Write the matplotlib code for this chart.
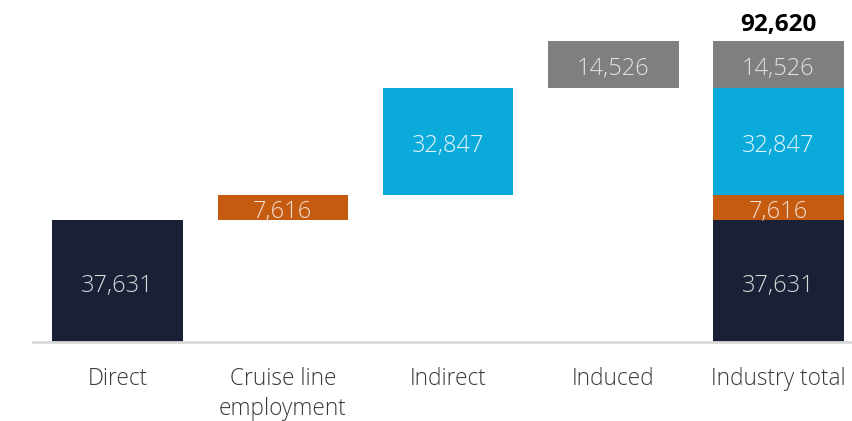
import numpy as np
import matplotlib.pyplot as plt

plt.rcParams['font.family'] = ['Open Sans', 'DejaVu Sans']

# data
categories = ['Direct', 'Cruise line\nemployment', 'Indirect', 'Induced', 'Industry total']
components = ['Direct', 'Cruise line employment', 'Indirect', 'Induced']
values = [37631, 7616, 32847, 14526]
colors = ['#1a2035', '#c55a11', '#0aabdb', '#7f7f7f']
text_colors = ['#d9d9d9', '#f2dccb', '#e8f6fb', '#e0e0e0']

values = np.array(values)
bottoms = np.concatenate([[0], np.cumsum(values)[:-1]])
total = values.sum()

fig = plt.figure(figsize=(8.52, 4.21), dpi=100)
ax = fig.add_axes([33 / 852, 1 - 342 / 421, 1 - 33 / 852, 342 / 421])

w = 0.79
for i, (v, b, c, tc) in enumerate(zip(values, bottoms, colors, text_colors)):
    for x in (i, 4):  # waterfall step + stacked total
        ax.bar(x, v, bottom=b, width=w, color=c, linewidth=0)
        ax.annotate(f'{v:,}', (x, b + v / 2), xytext=(0, -3.5),
                    textcoords='offset points', ha='center', va='center',
                    fontsize=17, color=tc, fontweight='light')

ax.text(4, total + 1200, f'{total:,}', ha='center', va='bottom',
        fontsize=17.5, fontweight='bold', color='black')

ax.set_xlim(-0.512, 4.445)
ax.set_ylim(0, 342 / (301 / 92620))
ax.set_xticks(range(len(categories)))
ax.set_xticklabels(categories, fontsize=16.3, color='#3a3a3a',
                   linespacing=1.32, fontweight='light')
ax.tick_params(axis='x', length=0, pad=18)
ax.set_yticks([])
for s in ['top', 'right', 'left']:
    ax.spines[s].set_visible(False)
ax.spines['bottom'].set_color('#d9d9d9')
ax.spines['bottom'].set_linewidth(2)

fig.savefig('out.png', dpi=100)
